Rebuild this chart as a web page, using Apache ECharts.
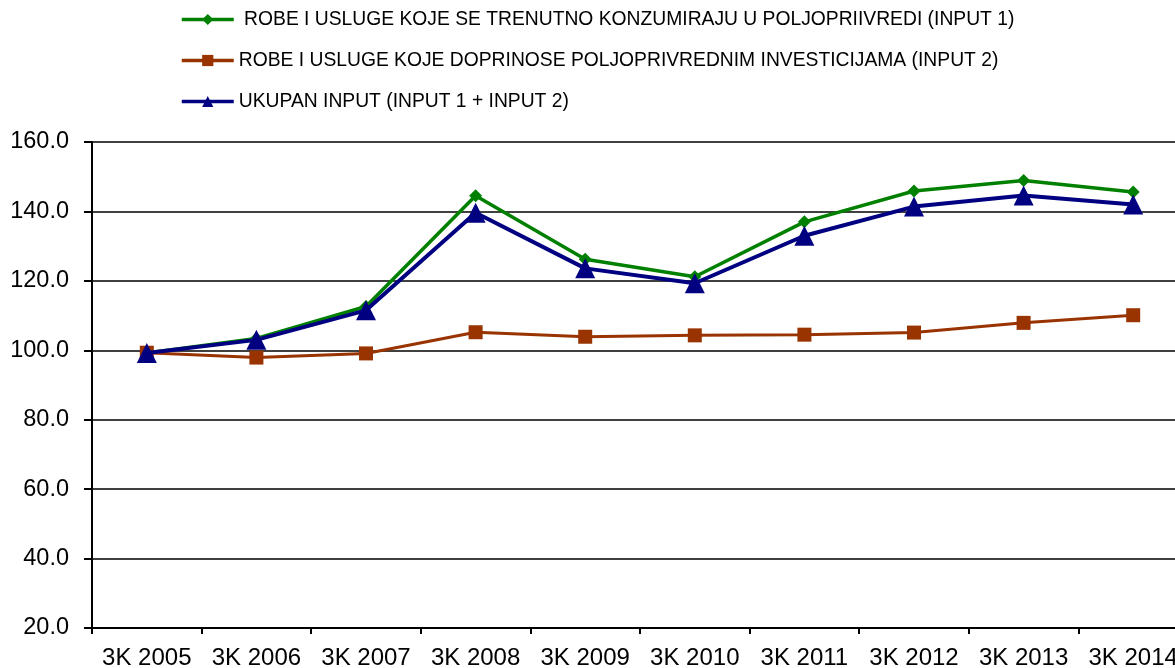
<!DOCTYPE html>
<html><head><meta charset="utf-8">
<script src="https://cdn.jsdelivr.net/npm/echarts@6/dist/echarts.min.js"></script>
<style>html,body{margin:0;padding:0;background:#fff}#c{width:1175px;height:668px}</style>
</head><body><div id="c"></div>
<script>
const categories = ['3K 2005','3K 2006','3K 2007','3K 2008','3K 2009','3K 2010','3K 2011','3K 2012','3K 2013','3K 2014'];
const input1 = [99.2, 103.4, 112.6, 144.5, 126.2, 121.2, 137.0, 145.9, 148.9, 145.6];
const input2 = [99.3, 97.9, 99.1, 105.2, 103.9, 104.3, 104.5, 105.1, 107.9, 110.1];
const total  = [99.2, 103.0, 111.5, 139.6, 123.6, 119.3, 133.0, 141.4, 144.6, 142.0];
const yTicks = {min: 20, max: 160, interval: 20};
const names = [
  ' ROBE I USLUGE KOJE SE TRENUTNO KONZUMIRAJU U POLJOPRIIVREDI (INPUT 1)',
  'ROBE I USLUGE KOJE DOPRINOSE POLJOPRIVREDNIM INVESTICIJAMA (INPUT 2)',
  'UKUPAN INPUT (INPUT 1 + INPUT 2)'
];
const chart = echarts.init(document.getElementById('c'));
const font = 'Liberation Sans, Arial, sans-serif';
chart.setOption({
  animation: false,
  legend: {
    orient: 'vertical', left: 175, top: 5, itemGap: 22, itemWidth: 52, itemHeight: 14,
    lineStyle: {width: 3.5},
    textStyle: {fontFamily: font, fontSize: 19.3, color: '#000'},
    data: names
  },
  grid: {left: 92, top: 142, width: 1096, height: 486, containLabel: false, outerBoundsMode: 'none'},
  xAxis: {
    type: 'category', data: categories, boundaryGap: true,
    axisLine: {lineStyle: {color: '#000', width: 2}},
    axisTick: {show: true, length: 6, lineStyle: {color: '#000', width: 2}},
    axisLabel: {fontFamily: font, fontSize: 24, color: '#000', margin: 18, interval: 0}
  },
  yAxis: {
    type: 'value', min: yTicks.min, max: yTicks.max, interval: yTicks.interval,
    axisLine: {show: true, lineStyle: {color: '#000', width: 2}},
    axisTick: {show: true, length: 8, lineStyle: {color: '#000', width: 2}},
    splitLine: {lineStyle: {color: '#000', width: 1.5}},
    axisLabel: {fontFamily: font, fontSize: 23.5, color: '#000', margin: 23, formatter: v => v.toFixed(1)}
  },
  series: [
    {name: names[0], type: 'line', data: input1, symbol: 'diamond', symbolSize: 13,
     lineStyle: {color: '#008000', width: 3.5}, itemStyle: {color: '#008000'}, z: 2},
    {name: names[1], type: 'line', data: input2, symbol: 'rect', symbolSize: 14,
     lineStyle: {color: '#993300', width: 3}, itemStyle: {color: '#993300'}, z: 3},
    {name: names[2], type: 'line', data: total, symbol: 'triangle', symbolSize: 20,
     lineStyle: {color: '#000080', width: 4}, itemStyle: {color: '#000080'}, z: 4}
  ]
});
</script></body></html>
